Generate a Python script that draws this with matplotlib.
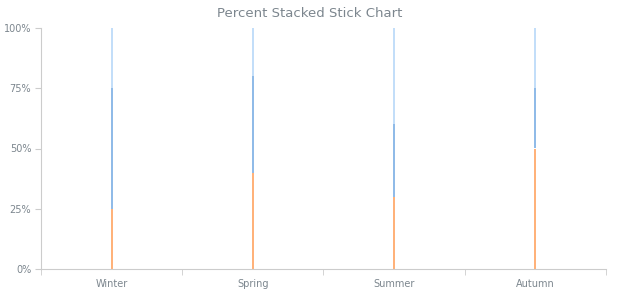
import matplotlib.pyplot as plt
import numpy as np

categories = ['Winter', 'Spring', 'Summer', 'Autumn']
series_a = [25, 40, 30, 50]
series_b = [50, 40, 30, 25]
series_c = [25, 20, 40, 25]
colors = ['#ffb27a', '#90bbe8', '#c3def9']

fig = plt.figure(figsize=(6.2, 3.0), dpi=100)
ax = fig.add_axes([0.066, 0.103, 0.911, 0.804])

x = np.arange(len(categories))
totals = np.array(series_a) + np.array(series_b) + np.array(series_c)
bottom = np.zeros(len(categories))
for vals, c in zip([series_a, series_b, series_c], colors):
    pct = np.array(vals) / totals * 100
    ax.bar(x, pct, bottom=bottom, width=0.014, color=c, linewidth=0)
    bottom += pct

ax.set_xlim(-0.5, len(categories) - 0.5)
ax.set_ylim(0, 100)
ax.set_yticks([0, 25, 50, 75, 100])
ax.set_yticklabels(['0%', '25%', '50%', '75%', '100%'])
ax.set_xticks(x)
ax.set_xticklabels(categories)
ax.set_xticks(np.arange(-0.5, len(categories)), minor=True)
ax.tick_params(axis='x', which='major', length=0, pad=7)
ax.tick_params(axis='x', which='minor', length=4, color='#cccccc')
ax.tick_params(axis='y', length=4, color='#cccccc', pad=3)
ax.tick_params(labelsize=7, labelcolor='#7c868e')

for side in ['top', 'right']:
    ax.spines[side].set_visible(False)
for side in ['left', 'bottom']:
    ax.spines[side].set_color('#cccccc')
    ax.spines[side].set_linewidth(0.8)

fig.text(0.5, 0.955, 'Percent Stacked Stick Chart', ha='center', va='center',
         fontsize=9.5, color='#7c868e')

fig.savefig('out.png', dpi=100)
